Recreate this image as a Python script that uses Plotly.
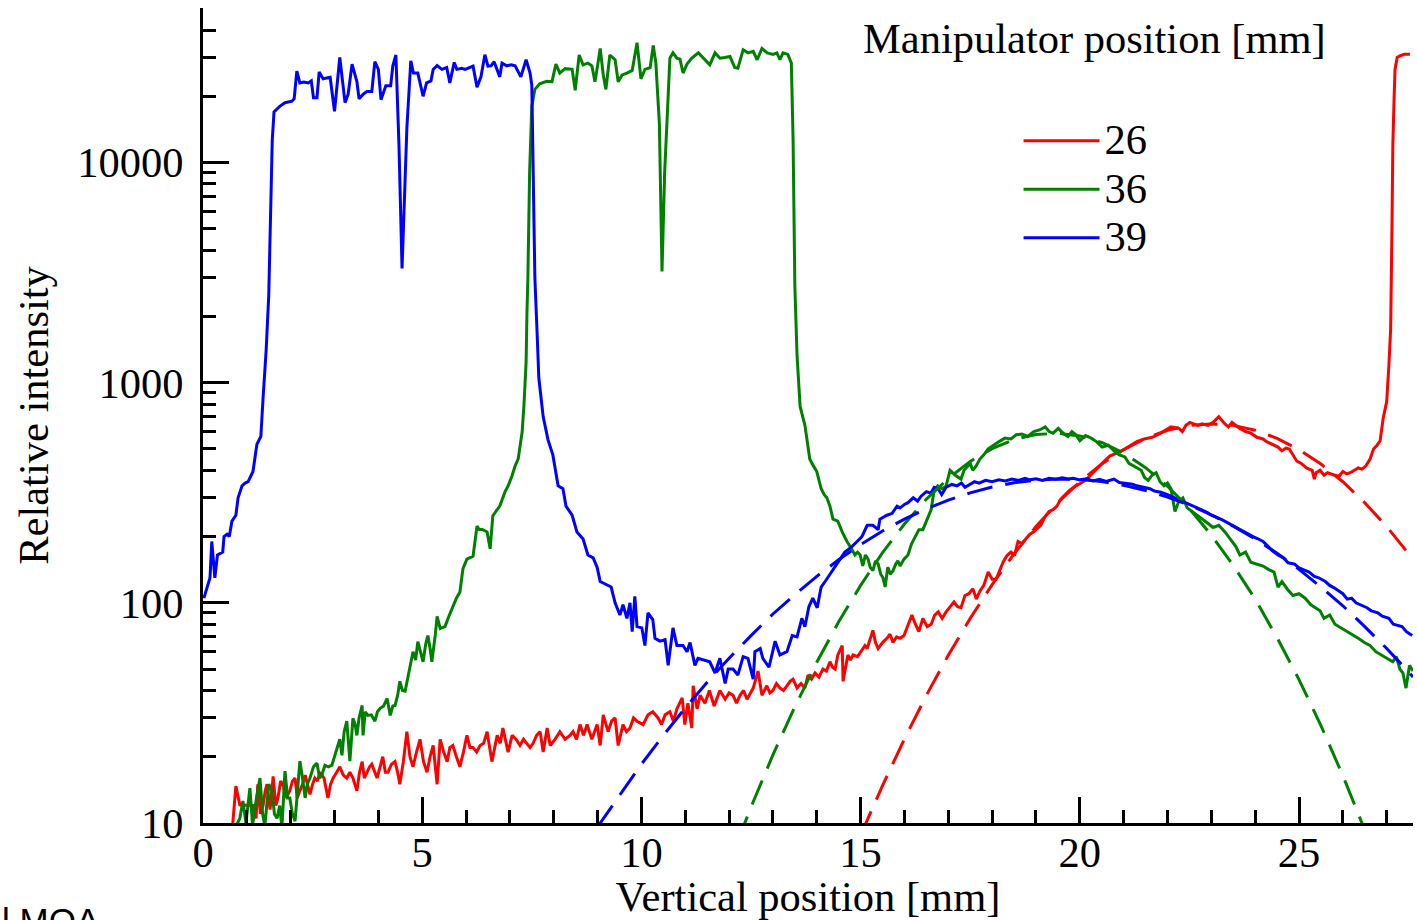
import plotly.graph_objects as go

# ---------------- data ----------------
x26 = [0.68, 0.75, 0.84, 0.95, 1.05, 1.14, 1.21, 1.25, 1.31, 1.37, 1.42, 1.46, 1.53, 1.6, 1.66, 1.71, 1.77, 1.82,
       1.9, 1.98, 2.04, 2.1, 2.15, 2.21, 2.27, 2.33, 2.38, 2.44, 2.5, 2.55, 2.61, 2.67, 2.76, 2.85, 2.91, 2.97, 3.05,
       3.12, 3.2, 3.28, 3.35, 3.42, 3.51, 3.57, 3.63, 3.68, 3.74, 3.8, 3.85, 3.91, 3.97, 4.04, 4.1, 4.16, 4.22, 4.3,
       4.38, 4.44, 4.49, 4.57, 4.65, 4.72, 4.79, 4.87, 4.95, 5.03, 5.11, 5.18, 5.25, 5.34, 5.41, 5.49, 5.57, 5.63,
       5.7, 5.78, 5.86, 5.94, 6.02, 6.09, 6.16, 6.24, 6.32, 6.4, 6.48, 6.59, 6.71, 6.78, 6.84, 6.96, 7.05, 7.14, 7.23,
       7.31, 7.39, 7.46, 7.53, 7.61, 7.69, 7.76, 7.85, 7.92, 8.03, 8.14, 8.26, 8.37, 8.44, 8.52, 8.6, 8.68, 8.76, 8.87,
       8.99, 9.06, 9.13, 9.24, 9.32, 9.4, 9.47, 9.58, 9.66, 9.74, 9.82, 9.9, 10.04, 10.15, 10.26, 10.38, 10.46, 10.54,
       10.65, 10.73, 10.81, 10.93, 10.99, 11.06, 11.15, 11.18, 11.27, 11.34, 11.45, 11.55, 11.66, 11.79, 11.91, 12.0,
       12.09, 12.17, 12.25, 12.33, 12.41, 12.48, 12.55, 12.66, 12.75, 12.86, 12.93, 13.0, 13.08, 13.16, 13.24, 13.32,
       13.39, 13.46, 13.55, 13.64, 13.73, 13.8, 13.88, 13.96, 14.05, 14.14, 14.22, 14.3, 14.36, 14.42, 14.48, 14.58,
       14.6, 14.71, 14.77, 14.83, 14.93, 15.03, 15.1, 15.15, 15.22, 15.28, 15.34, 15.4, 15.5, 15.6, 15.67, 15.74,
       15.82, 15.9, 15.99, 16.08, 16.17, 16.25, 16.33, 16.42, 16.52, 16.61, 16.69, 16.77, 16.86, 16.95, 17.04, 17.13,
       17.21, 17.29, 17.38, 17.47, 17.56, 17.64, 17.72, 17.81, 17.91, 18.0, 18.09, 18.17, 18.25, 18.34, 18.43, 18.51,
       18.59, 18.68, 18.77, 18.86, 18.95, 19.03, 19.11, 19.2, 19.3, 19.39, 19.48, 19.56, 19.64, 19.77, 19.91, 20.03,
       20.16, 20.3, 20.44, 20.56, 20.69, 20.86, 21.03, 21.16, 21.3, 21.47, 21.65, 21.78, 21.9, 22.08, 22.26, 22.34,
       22.42, 22.51, 22.6, 22.7, 22.79, 22.92, 23.04, 23.17, 23.31, 23.39, 23.47, 23.56, 23.65, 23.78, 23.9, 24.04,
       24.18, 24.26, 24.34, 24.43, 24.52, 24.61, 24.7, 24.78, 24.86, 24.95, 25.05, 25.17, 25.3, 25.35, 25.39, 25.48,
       25.57, 25.65, 25.73, 25.82, 25.91, 26.0, 26.09, 26.17, 26.25, 26.35, 26.44, 26.53, 26.62, 26.7, 26.78, 26.85,
       26.92, 27.0, 27.05, 27.09, 27.12, 27.14, 27.17, 27.19, 27.24, 27.3, 27.4, 27.53, 27.6]
y26 = [10, 14.7, 12.1, 12, 12, 12, 10.5, 15, 11, 12, 14, 15, 11.5, 16.3, 12, 13, 15.5, 15,
       13, 14, 15.5, 16, 13, 14, 15, 16.5, 15, 13.5, 15, 16, 15.5, 17, 16, 13, 15, 16, 17,
       18, 16.5, 16, 17, 16, 14, 17, 19, 16, 17, 18, 18.5, 17, 16, 18, 20, 17, 17, 18.5,
       19, 17, 15, 19, 26, 20, 18, 21, 24, 19, 17, 20, 22.5, 15, 24, 21, 19, 22, 22.5,
       20, 18, 21, 25, 22, 22, 21, 22.5, 23, 26, 19, 25, 23, 27, 21, 25, 24, 22.5, 24,
       23, 22, 23, 25, 26, 21, 27, 22.5, 24, 26, 24, 25, 26, 24, 28, 25, 28, 24,
       28, 22.5, 31, 26, 29, 30, 22.5, 28, 26, 27, 30, 29, 28, 31, 32, 30, 28, 31,
       32, 29, 33, 37, 28, 35, 27, 42, 33, 38, 35, 40, 34, 40, 36.5, 39,
       38, 35, 38, 40, 36.5, 39, 41, 49, 38, 42, 39, 40, 43, 41, 40, 42,
       44, 45, 41, 43, 41, 47, 45, 48, 46, 50, 49, 54, 51, 50, 58, 64,
       44, 58, 55, 58, 57, 61, 64, 62, 68, 75, 66, 62, 66, 69, 72, 66,
       70, 69, 71, 80, 88, 80, 74, 85, 78, 80, 88, 91, 85, 91, 96, 101, 96,
       95, 108, 110, 116, 104, 113, 120, 138, 128, 128, 140, 153, 164, 170, 164,
       190, 186, 195, 205, 210, 218, 225, 245, 260, 265, 275, 295, 305, 325, 340, 350,
       365, 390, 420, 440, 465, 480, 500, 520, 540, 555, 565, 580, 600, 630, 620,
       600, 640, 660, 650, 640, 650, 640, 660, 700, 650, 630, 660, 640, 620, 600, 590,
       565, 555, 540, 530, 520, 510, 490, 505, 500, 470, 440, 430, 410, 400, 365, 390,
       400, 380, 390, 385, 380, 375, 395, 385, 390, 400, 410, 405, 420, 450, 500, 520,
       545, 690, 820, 1200, 1750, 5000, 12000, 20000, 26500, 30000, 30500, 31000, 31000]

x36 = [0.75, 0.84, 0.91, 0.98, 1.07, 1.13, 1.22, 1.3, 1.36, 1.41, 1.5, 1.57, 1.63, 1.69, 1.75, 1.8, 1.87, 1.93,
       1.98, 2.04, 2.1, 2.15, 2.21, 2.27, 2.33, 2.38, 2.44, 2.52, 2.6, 2.66, 2.71, 2.78, 2.86, 2.94, 3.0, 3.06, 3.12,
       3.17, 3.22, 3.28, 3.35, 3.42, 3.47, 3.51, 3.56, 3.63, 3.65, 3.7, 3.76, 3.84, 3.92, 3.98, 4.04, 4.12, 4.2, 4.27,
       4.33, 4.38, 4.44, 4.49, 4.55, 4.61, 4.7, 4.79, 4.85, 4.9, 4.96, 5.02, 5.08, 5.13, 5.18, 5.22, 5.3, 5.34, 5.41,
       5.52, 5.62, 5.7, 5.78, 5.86, 5.93, 6.02, 6.09, 6.16, 6.25, 6.3, 6.36, 6.42, 6.48, 6.55, 6.61, 6.69, 6.77, 6.89,
       6.96, 7.05, 7.12, 7.19, 7.28, 7.32, 7.37, 7.39, 7.41, 7.45, 7.5, 7.57, 7.68, 7.84, 7.96, 8.05, 8.14, 8.26, 8.42,
       8.49, 8.58, 8.67, 8.78, 8.87, 8.94, 9.0, 9.06, 9.13, 9.19, 9.28, 9.4, 9.47, 9.56, 9.67, 9.79, 9.9, 9.99, 10.08,
       10.2, 10.27, 10.33, 10.41, 10.47, 10.53, 10.58, 10.65, 10.72, 10.81, 10.88, 10.95, 11.04, 11.15, 11.3, 11.41,
       11.56, 11.68, 11.79, 11.9, 12.02, 12.13, 12.2, 12.32, 12.43, 12.55, 12.64, 12.75, 12.87, 13.0, 13.09, 13.16,
       13.23, 13.34, 13.42, 13.46, 13.5, 13.55, 13.62, 13.73, 13.84, 13.92, 14.0, 14.1, 14.17, 14.23, 14.3, 14.37,
       14.48, 14.58, 14.69, 14.8, 14.87, 14.93, 14.99, 15.05, 15.11, 15.17, 15.22, 15.28, 15.34, 15.4, 15.46, 15.51,
       15.56, 15.62, 15.68, 15.74, 15.8, 15.85, 15.9, 15.99, 16.08, 16.16, 16.24, 16.33, 16.42, 16.52, 16.61, 16.67,
       16.76, 16.86, 16.95, 17.04, 17.16, 17.29, 17.36, 17.43, 17.5, 17.56, 17.64, 17.72, 17.81, 17.91, 18.03, 18.16,
       18.29, 18.43, 18.55, 18.68, 18.81, 18.95, 19.08, 19.21, 19.3, 19.39, 19.51, 19.64, 19.73, 19.82, 19.91, 20.0,
       20.13, 20.26, 20.38, 20.51, 20.65, 20.78, 20.9, 21.03, 21.12, 21.21, 21.3, 21.4, 21.48, 21.56, 21.65, 21.74,
       21.83, 21.92, 22.0, 22.08, 22.17, 22.26, 22.35, 22.45, 22.56, 22.68, 22.79, 22.92, 23.04, 23.17, 23.31, 23.44,
       23.56, 23.65, 23.78, 23.9, 24.04, 24.18, 24.3, 24.43, 24.52, 24.61, 24.74, 24.86, 25.0, 25.14, 25.27, 25.39,
       25.48, 25.57, 25.7, 25.82, 25.96, 26.09, 26.22, 26.35, 26.49, 26.62, 26.75, 26.87, 27.0, 27.14, 27.22, 27.3,
       27.37, 27.44, 27.52, 27.6]
y36 = [9.6, 10.5, 12.6, 10, 14.4, 9.8, 13, 16, 11, 9.7, 15, 14, 11, 10.5, 12, 9.5, 17.2, 13,
       13, 11, 10.2, 14, 19.1, 16, 13, 15, 16, 18, 18.7, 16, 16.5, 18.3, 18, 18.3, 20, 21.9, 24,
       20.3, 26, 29, 19.1, 29.9, 28, 25, 30, 34.2, 25, 32, 30.8, 31, 29, 32, 33.2, 34, 36.8, 30.8,
       34, 34.2, 38, 44, 40, 39.7, 48, 60, 55, 66.7, 60, 54, 65, 71, 62, 54, 72, 86.7, 76.5,
       78, 88, 97, 105, 112, 143, 158, 160, 163, 223, 215, 216, 212, 210, 176, 248, 262, 275, 320,
       340, 378, 419, 451, 598, 784, 1240, 2090, 2950, 9000, 18000, 21500, 22800, 23400, 23300, 28000, 25500, 26700, 26500,
       21300, 30800, 27800, 28300, 27500, 23300, 27500, 33000, 25000, 21500, 30800, 29300, 23300, 25000, 25500, 26200, 35000, 24000, 26500,
       27000, 34000, 28300, 15000, 3200, 9000, 15700, 29800, 31500, 29800, 29500, 25500, 28000, 29800, 31500, 29800,
       27800, 31500, 29800, 30000, 30300, 27000, 26800, 32500, 31500, 32000, 29300, 33000, 31500, 31000, 31500, 29300,
       31500, 31000, 28300, 12700, 2750, 1330, 780, 640, 450, 420, 395, 330, 310, 300, 275, 240,
       235, 210, 190, 175, 165, 170, 165, 147, 165, 158, 145, 140, 155, 150, 135, 130,
       118, 145, 135, 140, 150, 155, 147, 158, 165, 185, 200, 215, 215, 240, 265, 318,
       340, 330, 340, 400, 380, 365, 400, 415, 430, 400, 420, 450, 470, 500, 520, 540,
       560, 555, 580, 585, 570, 600, 610, 630, 600, 590, 620, 585, 570, 600, 580, 545,
       575, 560, 540, 510, 520, 490, 470, 460, 430, 420, 410, 400, 370, 360, 380, 390,
       355, 340, 350, 330, 260, 290, 300, 270, 260, 250, 240, 230, 220, 225, 210, 195,
       180, 165, 170, 153, 150, 147, 142, 138, 118, 125, 115, 108, 110, 105, 98, 94,
       92, 85, 88, 80, 77, 74, 72, 69, 66, 64, 60, 58, 56, 54, 57, 50,
       48, 41, 52, 49]

x39 = [0.02, 0.1, 0.16, 0.2, 0.27, 0.33, 0.4, 0.45, 0.48, 0.55, 0.6, 0.66, 0.75, 0.8, 0.89, 0.96, 1.03, 1.14,
       1.23, 1.32, 1.37, 1.44, 1.5, 1.55, 1.58, 1.62, 1.75, 1.87, 2.03, 2.08, 2.14, 2.21, 2.3, 2.4, 2.47, 2.52, 2.6,
       2.65, 2.74, 2.82, 2.9, 3.0, 3.12, 3.24, 3.31, 3.4, 3.51, 3.56, 3.66, 3.74, 3.85, 3.92, 4.0, 4.06, 4.17, 4.28,
       4.33, 4.4, 4.47, 4.54, 4.6, 4.65, 4.74, 4.8, 4.9, 5.02, 5.1, 5.2, 5.25, 5.34, 5.45, 5.56, 5.63, 5.73, 5.79,
       5.9, 5.98, 6.07, 6.16, 6.25, 6.34, 6.43, 6.5, 6.57, 6.64, 6.77, 6.82, 6.93, 7.03, 7.12, 7.25, 7.37, 7.46, 7.5,
       7.53, 7.57, 7.62, 7.66, 7.76, 7.87, 7.98, 8.1, 8.21, 8.28, 8.42, 8.53, 8.67, 8.78, 8.9, 8.99, 9.06, 9.22, 9.31,
       9.4, 9.51, 9.58, 9.67, 9.74, 9.79, 9.85, 9.9, 10.01, 10.08, 10.15, 10.26, 10.31, 10.42, 10.54, 10.61, 10.72,
       10.81, 10.95, 11.04, 11.11, 11.22, 11.29, 11.41, 11.56, 11.68, 11.79, 11.91, 11.98, 12.09, 12.2, 12.32, 12.43,
       12.55, 12.59, 12.71, 12.77, 12.91, 13.05, 13.16, 13.32, 13.44, 13.55, 13.66, 13.73, 13.82, 13.91, 14.01, 14.1,
       14.19, 14.3, 14.42, 14.53, 14.64, 14.72, 14.8, 14.92, 15.03, 15.15, 15.28, 15.4, 15.44, 15.6, 15.72, 15.83,
       15.9, 16.0, 16.08, 16.2, 16.3, 16.38, 16.5, 16.6, 16.68, 16.77, 16.85, 16.95, 17.08, 17.2, 17.3, 17.38, 17.5,
       17.6, 17.7, 17.85, 18.0, 18.15, 18.3, 18.45, 18.6, 18.75, 18.86, 19.0, 19.15, 19.3, 19.45, 19.6, 19.73, 19.85,
       20.0, 20.16, 20.3, 20.45, 20.6, 20.78, 20.9, 21.03, 21.2, 21.3, 21.46, 21.6, 21.7, 21.85, 22.0, 22.08, 22.2,
       22.3, 22.42, 22.55, 22.65, 22.79, 22.9, 23.0, 23.1, 23.25, 23.35, 23.47, 23.6, 23.7, 23.8, 23.95, 24.05, 24.18,
       24.3, 24.4, 24.52, 24.65, 24.75, 24.9, 25.0, 25.1, 25.23, 25.35, 25.45, 25.6, 25.7, 25.8, 25.91, 26.0, 26.1,
       26.2, 26.3, 26.44, 26.55, 26.65, 26.8, 26.9, 27.05, 27.15, 27.25, 27.35, 27.45, 27.58]
y39 = [105, 120, 130, 190, 130, 165, 168, 170, 200, 205, 200, 235, 250, 300, 340, 350, 355, 395,
       525, 570, 850, 1400, 2500, 7000, 12700, 17000, 18000, 18700, 19000, 19500, 26000, 23000, 23200, 23000, 23500, 19700, 19700,
       25800, 24000, 24200, 24400, 17100, 30000, 18700, 20400, 28000, 23300, 19500, 20500, 21000, 21000, 28700, 26500, 19300, 22300, 22300,
       27500, 30800, 12000, 3300, 8000, 14300, 29000, 25500, 25500, 20000, 23000, 23500, 26500, 27600, 26500, 27000, 23000, 28500, 26500,
       26800, 26500, 27000, 27400, 22000, 24500, 30900, 27400, 27500, 28700, 24500, 28300, 27500, 27800, 27500, 24500, 29300, 25500, 22500,
       11000, 3000, 1700, 1050, 700, 550, 470, 340, 330, 275, 250, 210, 195, 165, 160, 145, 125, 120, 118,
       100, 88, 98, 85, 100, 74, 107, 78, 77, 64, 90, 84, 69, 67, 68, 52, 77,
       64, 64, 60, 66, 52, 56, 55, 54, 48, 56, 43, 50, 50, 47, 57, 56,
       45, 60, 62, 56, 51, 67, 58, 60, 71, 70, 85, 78, 96, 105, 95, 118,
       125, 135, 146, 158, 170, 175, 180, 190, 200, 225, 225, 215, 240, 250, 255, 275,
       270, 280, 285, 300, 290, 305, 320, 315, 335, 330, 310, 335, 345, 340, 350, 335, 345,
       355, 350, 360, 355, 362, 358, 365, 360, 368, 362, 366, 360, 368, 364, 370, 365, 368,
       362, 366, 358, 364, 356, 365, 352, 350, 346, 340, 335, 330, 322, 318, 310, 305, 298,
       292, 285, 278, 272, 265, 258, 250, 246, 238, 232, 225, 218, 214, 208, 200, 196, 190,
       180, 172, 165, 160, 152, 150, 144, 141, 138, 132, 130, 125, 120, 117, 113, 110, 104,
       105, 100, 97, 95, 92, 90, 87, 85, 80, 79, 78, 74, 71]

# Gaussian fits (dashed)
fit26_x = [15.0, 15.5, 16.0, 16.5, 17.0, 17.5, 18.0, 18.5, 19.0, 19.5, 20.0, 20.5, 21.0, 21.5, 22.0, 22.5, 23.0,
           23.5, 24.0, 24.5, 25.0, 25.5, 26.0, 26.5, 27.0, 27.5, 27.6]
fit26_y = [8.8, 14.8, 24.1, 38, 57.8, 85, 121, 167, 222, 285, 355, 427, 497, 559, 608, 640, 650,
           640, 608, 559, 497, 427, 355, 285, 222, 167, 158]
fit36_x = [12.2, 12.5, 13.0, 13.5, 14.0, 14.5, 15.0, 15.5, 16.0, 16.5, 17.0, 17.5, 18.0, 18.5, 19.0, 19.5, 20.0,
           20.5, 21.0, 21.5, 22.0, 22.5, 23.0, 23.5, 24.0, 24.5, 25.0, 25.5, 26.0, 26.5, 26.7]
fit36_y = [8.3, 11.8, 20.4, 33.7, 53.7, 82, 120, 169, 228, 296, 367, 439, 502, 552, 582, 589, 573,
           535, 479, 411, 339, 268, 203, 148, 104, 69.5, 44.8, 27.7, 16.4, 9.4, 7.4]
fit39_x = [9.0, 9.5, 10.0, 10.5, 11.0, 11.5, 12.0, 12.5, 13.0, 13.5, 14.0, 14.5, 15.0, 15.5, 16.0, 16.5, 17.0,
           17.5, 18.0, 18.5, 19.0, 19.5, 20.0, 20.5, 21.0, 21.5, 22.0, 22.5, 23.0, 23.5, 24.0, 24.5, 25.0, 25.5,
           26.0, 26.5, 27.0, 27.5, 27.6]
fit39_y = [9.6, 13.4, 18.5, 25, 33.3, 43.6, 56, 71, 89, 109, 132, 157, 184, 212, 240, 267, 293,
           316, 336, 351, 361, 365, 363, 356, 342, 324, 302, 278, 251, 223, 195, 168, 142, 118,
           97, 78, 62, 48.6, 46]

series_names = ["26", "36", "39"]
colors = ["#ff0000", "#008000", "#0000ff"]

x_ticks = [0, 5, 10, 15, 20, 25]
y_ticks = [10, 100, 1000, 10000]
y_ticktext = ["10", "100", "1000", "10000"]

SERIF = "Liberation Serif"
FS = 42.5

fig = go.Figure()
for name, c, xs, ys in zip(series_names, colors, [x26, x36, x39], [y26, y36, y39]):
    fig.add_trace(go.Scatter(x=xs, y=ys, mode="lines",
                             name='<span style="font-size:%.1fpx">%s</span>' % (FS, name),
                             line=dict(color=c, width=3)))
for name, c, xs, ys in zip(series_names, colors, [fit26_x, fit36_x, fit39_x], [fit26_y, fit36_y, fit39_y]):
    fig.add_trace(go.Scatter(x=xs, y=ys, mode="lines", name=name + " fit", showlegend=False,
                             line=dict(color=c, width=3, dash="26px,13px")))

axis_common = dict(showline=True, linewidth=3, linecolor="black", mirror=False,
                   ticks="inside", ticklen=26, tickwidth=3, tickcolor="black",
                   showgrid=False, zeroline=False,
                   tickfont=dict(family=SERIF, size=FS, color="black"))

fig.update_xaxes(range=[0, 27.6], tickvals=x_ticks,
                 minor=dict(ticks="inside", ticklen=13, tickwidth=3, tickcolor="black", dtick=1, showgrid=False),
                 title=dict(text="Vertical position [mm]", font=dict(family=SERIF, size=FS, color="black"), standoff=10),
                 ticklabelstandoff=-10,
                 **axis_common)
fig.update_yaxes(type="log", range=[1, 4.702], tickvals=y_ticks, ticktext=y_ticktext,
                 minor=dict(ticks="inside", ticklen=13, tickwidth=3, tickcolor="black", dtick="D1", showgrid=False),
                 title=dict(text="Relative intensity", font=dict(family=SERIF, size=FS, color="black"), standoff=16),
                 ticklabelstandoff=8,
                 **axis_common)

fig.update_layout(
    width=1417, height=920,
    margin=dict(l=203, r=4, t=8, b=95),
    paper_bgcolor="white", plot_bgcolor="white",
    showlegend=True,
    legend=dict(x=0.674, y=0.873, xanchor="left", yanchor="top",
                font=dict(family=SERIF, size=35, color="black"),
                bgcolor="rgba(0,0,0,0)", itemwidth=76, tracegroupgap=0),
    annotations=[
        dict(text="Manipulator position [mm]", xref="paper", yref="paper", x=0.737, y=0.963,
             xanchor="center", yanchor="middle", showarrow=False,
             font=dict(family=SERIF, size=FS, color="black")),
        dict(text="l MOA", xref="paper", yref="paper", x=-0.168, y=-0.093,
             xanchor="left", yanchor="top", showarrow=False,
             font=dict(family="Liberation Sans, Arial, sans-serif", size=35, color="black")),
    ],
)

fig.write_html("out.html")
